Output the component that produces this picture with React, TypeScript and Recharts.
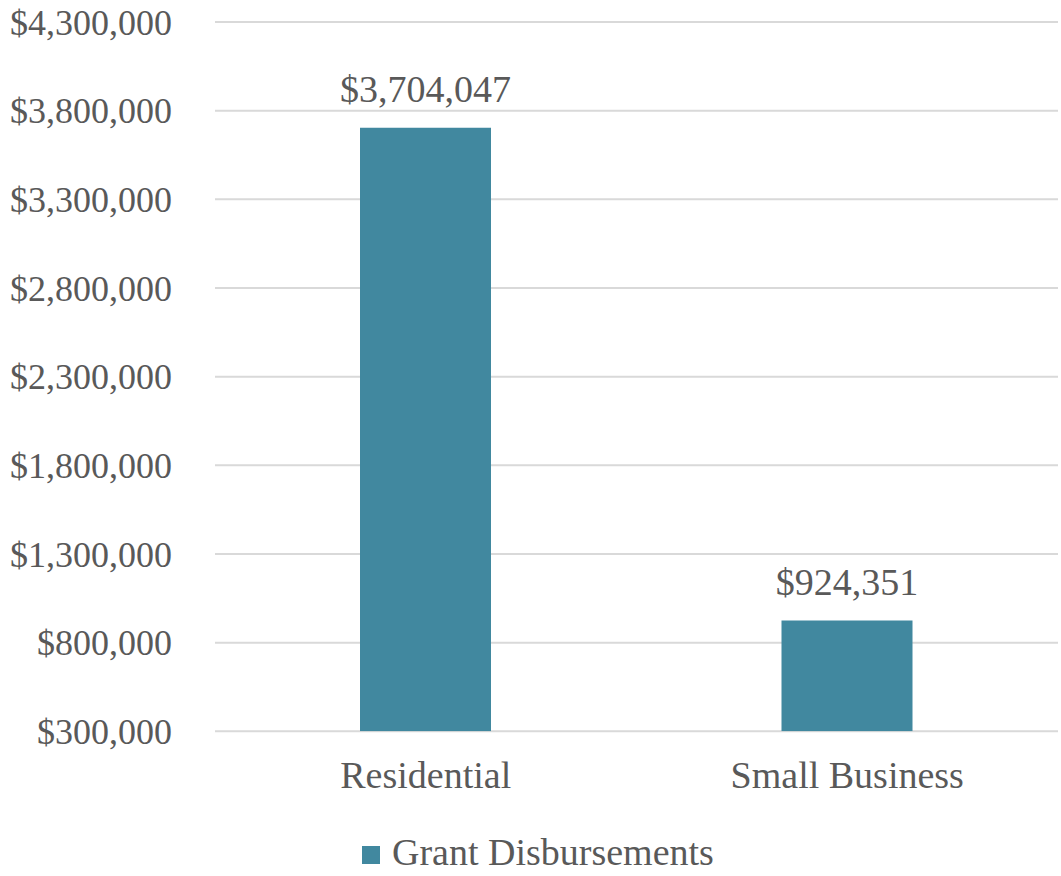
import React from 'react';
import { BarChart, Bar, XAxis, YAxis, CartesianGrid, Legend, LabelList } from 'recharts';

const categories = ['Residential', 'Small Business'];
const disbursements = [3704047, 924351];
const yTicks = [300000, 800000, 1300000, 1800000, 2300000, 2800000, 3300000, 3800000, 4300000];

const data = categories.map((name, i) => ({ name, value: disbursements[i] }));

const FONT = '"Liberation Serif", "DejaVu Serif", serif';
const BAR_COLOR = '#41889F';
const TEXT_COLOR = '#595959';

const money = (v: number) => '$' + v.toLocaleString('en-US');

const CustomLegend = () => (
  <div style={{ display: 'flex', alignItems: 'center', fontFamily: FONT, fontSize: 38, lineHeight: 1.15, color: TEXT_COLOR }}>
    <div style={{ width: 18, height: 18, backgroundColor: BAR_COLOR, marginRight: 12, marginTop: 4 }}></div>
    <span>Grant Disbursements</span>
  </div>
);

const App: React.FC = () => {
  return (
    <div style={{ position: 'absolute', left: 0, top: 0, background: '#fff' }}>
      <BarChart
        width={1061}
        height={876}
        data={data}
        margin={{ top: 22, right: 3, bottom: 11, left: 0 }}
        barCategoryGap="0%"
      >
        <CartesianGrid vertical={false} stroke="#d9d9d9" strokeWidth={2} />
        <XAxis
          dataKey="name"
          axisLine={false}
          tickLine={false}
          height={90}
          tickMargin={24}
          tick={{ fill: TEXT_COLOR, fontSize: 38, fontFamily: FONT }}
        />
        <YAxis
          domain={[300000, 4300000]}
          ticks={yTicks}
          allowDataOverflow
          axisLine={false}
          tickLine={false}
          tickSize={0}
          tickMargin={43}
          width={215}
          tickFormatter={money}
          tick={{ fill: TEXT_COLOR, fontSize: 36, fontFamily: FONT }}
        />
        <Legend
          content={<CustomLegend />}
          verticalAlign="bottom"
          wrapperStyle={{ left: 362, width: 'auto', bottom: 1 }}
        />
        <Bar dataKey="value" fill={BAR_COLOR} barSize={131} isAnimationActive={false}>
          <LabelList
            dataKey="value"
            position="top"
            offset={26}
            formatter={(v: any) => money(Number(v))}
            style={{ fill: TEXT_COLOR, fontSize: 38, fontFamily: FONT }}
          />
        </Bar>
      </BarChart>
    </div>
  );
};

export default App;
